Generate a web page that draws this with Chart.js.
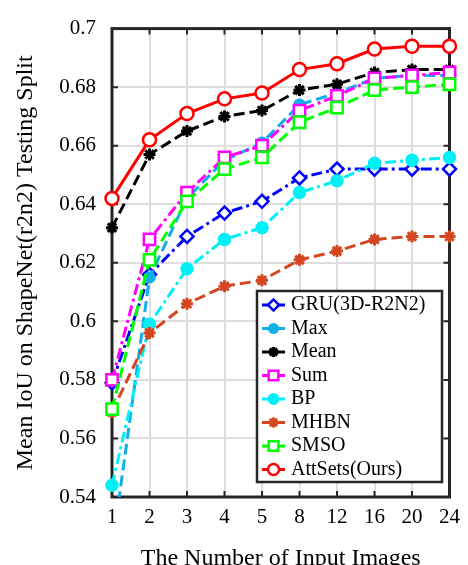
<!DOCTYPE html>
<html>
<head>
<meta charset="utf-8">
<script src="https://cdn.jsdelivr.net/npm/chart.js@4.4.0/dist/chart.umd.min.js"></script>
<style>
  html, body { margin: 0; padding: 0; background: #fff; }
  #wrap { width: 468px; height: 565px; position: relative; }
</style>
</head>
<body>
<div id="wrap"><canvas id="myChart"></canvas></div>
<script>
const labels = ["1", "2", "3", "4", "5", "8", "12", "16", "20", "24"];
const yTicks = [0.54, 0.56, 0.58, 0.6, 0.62, 0.64, 0.66, 0.68, 0.7];

const seriesNames = ["GRU(3D-R2N2)", "Max", "Mean", "Sum", "BP", "MHBN", "SMSO", "AttSets(Ours)"];

const gru     = [0.579, 0.616, 0.629, 0.637, 0.641, 0.649, 0.652, 0.652, 0.652, 0.652];
const maxPool = [0.522, 0.615, 0.642, 0.655, 0.661, 0.674, 0.678, 0.683, 0.684, 0.684];
const meanPool = [0.632, 0.657, 0.665, 0.670, 0.672, 0.679, 0.681, 0.685, 0.686, 0.686];
const sumPool = [0.580, 0.628, 0.644, 0.656, 0.660, 0.672, 0.677, 0.683, 0.684, 0.685];
const bp      = [0.544, 0.599, 0.618, 0.628, 0.632, 0.644, 0.648, 0.654, 0.655, 0.656];
const mhbn    = [0.569, 0.596, 0.606, 0.612, 0.614, 0.621, 0.624, 0.628, 0.629, 0.629];
const smso    = [0.570, 0.621, 0.641, 0.652, 0.656, 0.668, 0.673, 0.679, 0.680, 0.681];
const attSets = [0.642, 0.662, 0.671, 0.676, 0.678, 0.686, 0.688, 0.693, 0.694, 0.694];

const FONT = "'Liberation Serif', 'Times New Roman', serif";
const AXIS = "#262626";
const DASH = [11, 5];
const DASHDOT = [11, 4, 3, 4];

function series(i, values, color, dash, style, radius, hollow, pbw) {
  return {
    label: seriesNames[i],
    data: values,
    borderColor: color,
    backgroundColor: color,
    borderWidth: 3,
    borderDash: dash,
    tension: 0,
    pointStyle: style,
    pointRadius: radius,
    pointBorderWidth: pbw || 2.5,
    pointBorderColor: color,
    pointBackgroundColor: hollow ? "#fff" : color,
    order: seriesNames.length - i,
  };
}

const datasets = [
  series(0, gru, "#0000ff", DASHDOT, "rectRot", 6.5, true),
  series(1, maxPool, "#0fb0e8", DASH, "circle", 5, false),
  series(2, meanPool, "#000000", DASH, "star", 6, false, 3),
  series(3, sumPool, "#ff00ff", DASHDOT, "rect", 8, true),
  series(4, bp, "#00f0f8", DASHDOT, "circle", 5.5, false),
  series(5, mhbn, "#d4461f", DASH, "star", 6, false, 3),
  series(6, smso, "#00ff00", DASH, "rect", 8, true),
  series(7, attSets, "#ff0000", [], "circle", 6.5, true),
];

// axes box + inward tick marks, MATLAB style
const framePlugin = {
  id: "frame",
  beforeDatasetsDraw(chart) {
    const { ctx, chartArea: a, scales } = chart;
    ctx.save();
    ctx.strokeStyle = AXIS;
    ctx.lineWidth = 2;
    scales.x.ticks.forEach((t, i) => {
      const px = scales.x.getPixelForTick(i);
      ctx.beginPath();
      ctx.moveTo(px, a.bottom); ctx.lineTo(px, a.bottom - 6);
      ctx.moveTo(px, a.top); ctx.lineTo(px, a.top + 6);
      ctx.stroke();
    });
    scales.y.ticks.forEach((t, i) => {
      const py = scales.y.getPixelForTick(i);
      ctx.beginPath();
      ctx.moveTo(a.left, py); ctx.lineTo(a.left + 6, py);
      ctx.moveTo(a.right, py); ctx.lineTo(a.right - 6, py);
      ctx.stroke();
    });
    ctx.lineWidth = 3;
    ctx.strokeRect(a.left, a.top, a.right - a.left, a.bottom - a.top);
    ctx.restore();
  }
};

// legend box inside the plot, lower right
const legendPlugin = {
  id: "boxLegend",
  afterDraw(chart) {
    const ctx = chart.ctx;
    const box = { left: 257, top: 291, right: 442, bottom: 482 };
    const row0 = 305, rowH = 23.5;
    ctx.save();
    ctx.fillStyle = "#fff";
    ctx.fillRect(box.left, box.top, box.right - box.left, box.bottom - box.top);
    ctx.strokeStyle = AXIS;
    ctx.lineWidth = 2.5;
    ctx.strokeRect(box.left, box.top, box.right - box.left, box.bottom - box.top);
    chart.data.datasets.forEach((ds, i) => {
      const y = row0 + i * rowH;
      ctx.strokeStyle = ds.borderColor;
      ctx.lineWidth = 3;
      ctx.setLineDash([]);
      ctx.beginPath();
      ctx.moveTo(262, y); ctx.lineTo(285, y);
      ctx.stroke();
      ctx.fillStyle = ds.pointBackgroundColor;
      ctx.lineWidth = ds.pointBorderWidth;
      Chart.helpers.drawPoint(ctx, {
        pointStyle: ds.pointStyle, radius: ds.pointRadius * 0.85,
        rotation: 0, borderWidth: ds.pointBorderWidth
      }, 273.5, y);
      ctx.fillStyle = "#000";
      ctx.font = "20px " + FONT;
      ctx.textBaseline = "middle";
      ctx.textAlign = "left";
      ctx.fillText(ds.label, 291, y);
    });
    ctx.restore();
  }
};

const config = {
  type: "line",
  data: { labels: labels, datasets: datasets },
  options: {
    responsive: true,
    maintainAspectRatio: false,
    animation: false,
    layout: { padding: { top: 17, right: 8, left: 0, bottom: 0 } },
    plugins: { legend: false, tooltip: { enabled: false } },
    scales: {
      x: {
        offset: false,
        grid: { color: "#dedede", lineWidth: 2, drawTicks: false },
        border: { display: false },
        ticks: { color: "#000", padding: 8, font: { family: FONT, size: 21 } },
        title: {
          display: true, text: "The Number of Input Images", color: "#000",
          font: { family: FONT, size: 24 }, padding: { top: 0, bottom: -8 }
        },
        afterFit(scale) { scale.height = 68; }
      },
      y: {
        min: 0.54, max: 0.7,
        grid: { color: "#dedede", lineWidth: 2, drawTicks: false },
        border: { display: false },
        afterBuildTicks(scale) { scale.ticks = yTicks.map(v => ({ value: v })); },
        ticks: {
          color: "#000", padding: 16, font: { family: FONT, size: 21 },
          callback: v => String(+v.toFixed(2))
        },
        title: {
          display: true, text: "Mean IoU on ShapeNet(r2n2) Testing Split", color: "#000",
          font: { family: FONT, size: 24 }, padding: { top: 11, bottom: 0 }
        },
        afterFit(scale) { scale.width = 112; }
      }
    }
  },
  plugins: [framePlugin, legendPlugin]
};

const myChart = new Chart(document.getElementById("myChart"), config);
</script>
</body>
</html>
